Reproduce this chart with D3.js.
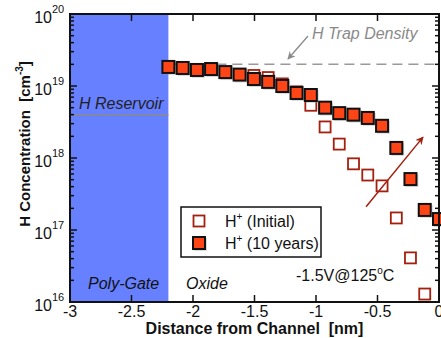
<!DOCTYPE html>
<html><head><meta charset="utf-8">
<script src="https://cdn.jsdelivr.net/npm/d3@7/dist/d3.min.js"></script>
<style>
html,body{margin:0;padding:0;background:#fff;}
svg{display:block;font-family:"Liberation Sans",Arial,Helvetica,sans-serif;}
</style></head>
<body>
<svg id="chart" width="441" height="338"></svg>
<script>
// ---- data ----
const xPositions = [-2.2, -2.084, -1.968, -1.853, -1.737, -1.621, -1.505, -1.389, -1.274, -1.158,
                    -1.042, -0.926, -0.811, -0.695, -0.579, -0.463, -0.347, -0.232, -0.116, 0];
const tenYears = [1.84e19, 1.78e19, 1.67e19, 1.72e19, 1.56e19, 1.44e19, 1.25e19, 1.14e19, 1.0e19, 8.0e18,
                  7.5e18, 5.0e18, 4.2e18, 4.0e18, 3.6e18, 2.8e18, 1.38e18, 5.1e17, 1.9e17, 1.42e17];
const initial = [1.84e19, 1.78e19, 1.67e19, 1.72e19, 1.56e19, 1.44e19, 1.40e19, 1.31e19, 1.07e19, 8.3e18,
                 5.4e18, 2.7e18, 1.56e18, 8.3e17, 5.8e17, 4.1e17, 1.47e17, 4.1e16, 1.29e16];
const xTicks = [-3, -2.5, -2, -1.5, -1, -0.5, 0];
const xTickLabels = ["-3", "-2.5", "-2", "-1.5", "-1", "-0.5", "0"];
const yTicks = [1e16, 1e17, 1e18, 1e19, 1e20];
const yTickExps = ["16", "17", "18", "19", "20"];
const gateRegion = [-3, -2.2];
const reservoirLevel = 4e18;
const trapDensity = 2e19;
const trendArrow = [[-0.593, 2.1e17], [-0.13, 1.95e18]];

// ---- layout ----
const svg = d3.select("#chart");
const x = d3.scaleLinear().domain([-3, 0]).range([70, 439]);
const y = d3.scaleLog().domain([1e16, 1e20]).range([302, 14]);
const [x0, x1] = x.range();
const [y0, y1] = y.range();

const defs = svg.append("defs");
defs.append("clipPath").attr("id", "clip").append("rect")
  .attr("x", x0).attr("y", y1).attr("width", 441 - x0).attr("height", y0 - y1);
defs.append("marker").attr("id", "arrRed").attr("viewBox", "0 0 10 10")
  .attr("refX", 9).attr("refY", 5).attr("markerWidth", 8).attr("markerHeight", 8)
  .attr("orient", "auto").attr("markerUnits", "userSpaceOnUse")
  .append("path").attr("d", "M0,0 L10,5 L0,10 L3,5 Z").attr("fill", "#a3200f");
defs.append("marker").attr("id", "arrGray").attr("viewBox", "0 0 10 10")
  .attr("refX", 9).attr("refY", 5).attr("markerWidth", 8).attr("markerHeight", 8)
  .attr("orient", "auto").attr("markerUnits", "userSpaceOnUse")
  .append("path").attr("d", "M0,0 L10,5 L0,10 L3,5 Z").attr("fill", "#8a8a8a");

// gate region
svg.append("rect").attr("x", x(gateRegion[0])).attr("y", y1)
  .attr("width", x(gateRegion[1]) - x(gateRegion[0])).attr("height", y0 - y1)
  .attr("fill", "#6680ff");

// H reservoir line
svg.append("line").attr("x1", x(gateRegion[0])).attr("x2", x(gateRegion[1]))
  .attr("y1", y(reservoirLevel)).attr("y2", y(reservoirLevel))
  .attr("stroke", "#8a8a8a").attr("stroke-width", 1.5);
svg.append("text").attr("x", 79).attr("y", y(reservoirLevel) - 6)
  .attr("font-size", 16).attr("font-style", "italic").attr("fill", "#222")
  .text("H Reservoir");

// trap density dashed line
svg.append("line").attr("x1", x(gateRegion[1])).attr("x2", x(0))
  .attr("y1", y(trapDensity)).attr("y2", y(trapDensity))
  .attr("stroke", "#999").attr("stroke-width", 1.5).attr("stroke-dasharray", "10,6");
svg.append("text").attr("x", 312).attr("y", 39)
  .attr("font-size", 16).attr("font-style", "italic").attr("fill", "#8a8a8a")
  .text("H Trap Density");
svg.append("line").attr("x1", 308).attr("y1", 36).attr("x2", 288).attr("y2", 59)
  .attr("stroke", "#8a8a8a").attr("stroke-width", 1.3).attr("marker-end", "url(#arrGray)");

// text region labels
svg.append("text").attr("x", 88).attr("y", 289).attr("font-size", 16)
  .attr("font-style", "italic").attr("fill", "#111").text("Poly-Gate");
svg.append("text").attr("x", 186).attr("y", 289).attr("font-size", 16)
  .attr("font-style", "italic").attr("fill", "#111").text("Oxide");

// markers
const g = svg.append("g").attr("clip-path", "url(#clip)");
const sOpen = 11, sFill = 12;
g.selectAll("rect.open").data(initial).join("rect").attr("class", "open")
  .attr("x", (d, i) => x(xPositions[i]) - sOpen / 2)
  .attr("y", d => y(d) - sOpen / 2)
  .attr("width", sOpen).attr("height", sOpen)
  .attr("fill", "#fff").attr("stroke", "#a3200f").attr("stroke-width", 1.8);
g.selectAll("rect.shadow").data(tenYears).join("rect").attr("class", "shadow")
  .attr("x", (d, i) => x(xPositions[i]) - sFill / 2 + 1)
  .attr("y", d => y(d) - sFill / 2 + 1)
  .attr("width", sFill + 1).attr("height", sFill + 1)
  .attr("fill", "#999").attr("opacity", 0.35);
g.selectAll("rect.fill").data(tenYears).join("rect").attr("class", "fill")
  .attr("x", (d, i) => x(xPositions[i]) - sFill / 2)
  .attr("y", d => y(d) - sFill / 2)
  .attr("width", sFill).attr("height", sFill)
  .attr("fill", "#ff4516").attr("stroke", "#111").attr("stroke-width", 2);

// trend arrow
svg.append("line")
  .attr("x1", x(trendArrow[0][0])).attr("y1", y(trendArrow[0][1]))
  .attr("x2", x(trendArrow[1][0])).attr("y2", y(trendArrow[1][1]))
  .attr("stroke", "#a3200f").attr("stroke-width", 1.5).attr("marker-end", "url(#arrRed)");

// legend
const lg = svg.append("g");
lg.append("rect").attr("x", 181).attr("y", 207).attr("width", 140).attr("height", 50)
  .attr("fill", "#fff").attr("stroke", "#111").attr("stroke-width", 1.5);
lg.append("rect").attr("x", 199 - sOpen / 2).attr("y", 221 - sOpen / 2)
  .attr("width", sOpen).attr("height", sOpen)
  .attr("fill", "#fff").attr("stroke", "#a3200f").attr("stroke-width", 1.8);
lg.append("rect").attr("x", 199 - sFill / 2 + 1).attr("y", 243 - sFill / 2 + 1)
  .attr("width", sFill + 1).attr("height", sFill + 1).attr("fill", "#999").attr("opacity", 0.35);
lg.append("rect").attr("x", 199 - sFill / 2).attr("y", 243 - sFill / 2)
  .attr("width", sFill).attr("height", sFill)
  .attr("fill", "#ff4516").attr("stroke", "#111").attr("stroke-width", 2);
const legendLabels = ["(Initial)", "(10 years)"];
legendLabels.forEach((lab, i) => {
  const t = lg.append("text").attr("x", 225).attr("y", 227 + i * 22).attr("font-size", 16).attr("fill", "#111");
  t.append("tspan").text("H");
  t.append("tspan").attr("font-size", 10).attr("dy", -7).text("+");
  t.append("tspan").attr("dy", 7).text("\u00a0" + lab);
});

// condition text
const ct = svg.append("text").attr("x", 296).attr("y", 281).attr("font-size", 16).attr("fill", "#111");
ct.append("tspan").text("-1.5V@125");
ct.append("tspan").attr("font-size", 10).attr("dy", -7).text("o");
ct.append("tspan").attr("dy", 7).text("C");

// axes ticks (inside)
const tickG = svg.append("g").attr("stroke", "#111").attr("stroke-width", 1.5);
xTicks.forEach(t => {
  tickG.append("line").attr("x1", x(t)).attr("x2", x(t)).attr("y1", y0).attr("y2", y0 - 7);
  tickG.append("line").attr("x1", x(t)).attr("x2", x(t)).attr("y1", y1).attr("y2", y1 + 7);
});
for (let e = 16; e < 20; e++) {
  for (let m = 1; m <= 9; m++) {
    const v = m * Math.pow(10, e);
    const len = m === 1 ? 7 : 4;
    tickG.append("line").attr("x1", x0).attr("x2", x0 + len).attr("y1", y(v)).attr("y2", y(v));
    tickG.append("line").attr("x1", x1).attr("x2", x1 - len).attr("y1", y(v)).attr("y2", y(v));
  }
}

// frame
svg.append("rect").attr("x", x0).attr("y", y1).attr("width", x1 - x0).attr("height", y0 - y1)
  .attr("fill", "none").attr("stroke", "#111").attr("stroke-width", 2);

// x tick labels
svg.append("g").selectAll("text").data(xTicks).join("text")
  .attr("x", d => x(d)).attr("y", 317).attr("text-anchor", "middle")
  .attr("font-size", 16).attr("fill", "#111")
  .text((d, i) => xTickLabels[i]);

// y tick labels
yTicks.forEach((v, i) => {
  const yy = y(v);
  svg.append("text").attr("x", 52).attr("y", yy + 9).attr("text-anchor", "end")
    .attr("font-size", 16).attr("fill", "#111").text("10");
  svg.append("text").attr("x", 52).attr("y", yy - 1)
    .attr("font-size", 11).attr("fill", "#111").text(yTickExps[i]);
});

// axis titles
svg.append("text").attr("x", x(-1.5)).attr("y", 334).attr("text-anchor", "middle")
  .attr("font-size", 16).attr("font-weight", "bold").attr("fill", "#111")
  .style("white-space", "pre").text("Distance from Channel  [nm]");
const yt = svg.append("text").attr("transform", "translate(30,144) rotate(-90)")
  .attr("text-anchor", "middle").attr("font-size", 15).attr("font-weight", "bold").attr("fill", "#111")
  .style("white-space", "pre");
yt.append("tspan").text("H Concentration  [cm");
yt.append("tspan").attr("font-size", 10).attr("dy", -7).text("-3");
yt.append("tspan").attr("dy", 7).text("]");
</script>
</body></html>
